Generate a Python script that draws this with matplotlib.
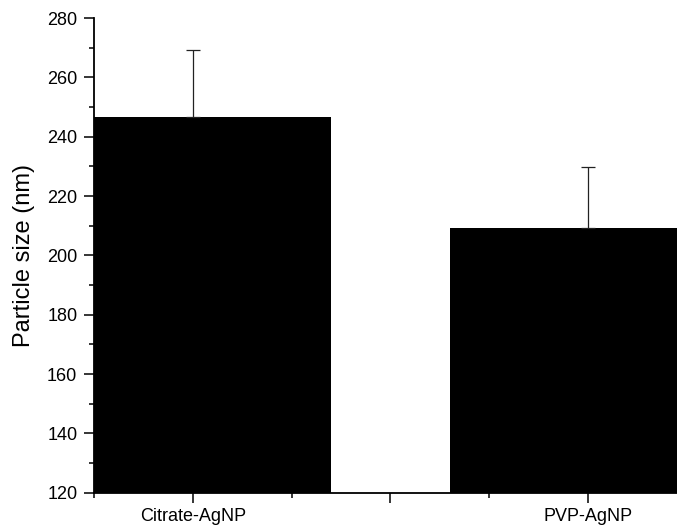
import matplotlib.pyplot as plt
import numpy as np
from matplotlib.ticker import MultipleLocator, FixedLocator

plt.rcParams['font.family'] = ['Liberation Sans', 'DejaVu Sans']

samples = ["Citrate-AgNP", "PVP-AgNP"]
size_nm = [246.5, 209.1]
error_nm = [22.6, 20.8]

x = np.array([1, 2])

fig = plt.figure(figsize=(6.77, 5.31), dpi=100)
ax = fig.add_axes([0.1388, 0.0721, 0.8756, 0.8939])

ax.bar(x, size_nm, width=0.70, color="black", zorder=2)
ax.errorbar(x, size_nm, yerr=[np.zeros(len(x)), error_nm], fmt="none",
            ecolor="#222222", elinewidth=0.9, capsize=5, capthick=0.9, zorder=3)

ax.set_xlim(0.75, 2.25)
ax.set_ylim(120, 280)

ax.xaxis.set_major_locator(FixedLocator([1, 1.5, 2]))
ax.xaxis.set_minor_locator(FixedLocator([0.75, 1.25, 1.75]))
ax.set_xticklabels([samples[0], "", samples[1]])
ax.yaxis.set_major_locator(MultipleLocator(20))
ax.yaxis.set_minor_locator(MultipleLocator(10))

for s in ["top", "right"]:
    ax.spines[s].set_visible(False)
for s in ["left", "bottom"]:
    ax.spines[s].set_linewidth(1.3)

ax.tick_params(axis="both", which="major", direction="out", length=7, width=1.1, labelsize=13)
ax.tick_params(axis="both", which="minor", direction="out", length=3.5, width=1.1)
ax.tick_params(axis="x", which="major", pad=4)
ax.tick_params(axis="y", which="major", pad=5)

ax.set_ylabel("Particle size (nm)", fontsize=17, labelpad=9)

fig.savefig("out.png", dpi=100)
